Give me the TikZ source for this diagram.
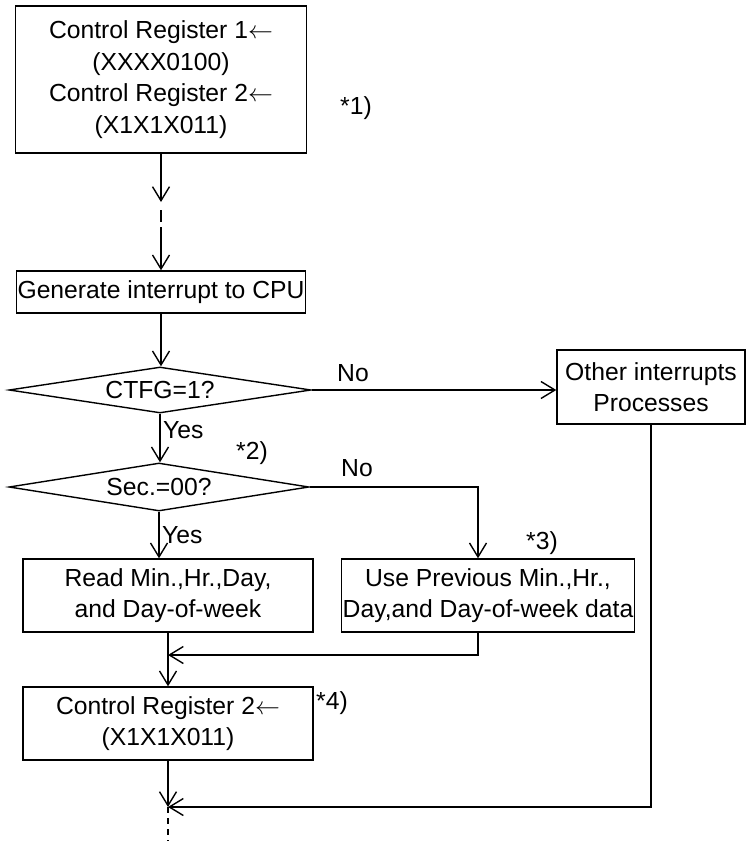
\documentclass[tikz,border=0pt]{standalone}
\usepackage{fontspec}
\setmainfont{Liberation Sans}
\usetikzlibrary{shapes.geometric,arrows.meta}
\begin{document}
\begin{tikzpicture}[x=1pt, y=-1pt,
  box/.style={draw, line width=1.4pt, inner sep=1pt, align=center,
              font=\fontsize{24.7}{31.5}\selectfont},
  dec/.style={draw, diamond, aspect=6.5, line width=1.4pt, inner sep=0pt,
              font=\fontsize{24.7}{30}\selectfont},
  note/.style={inner sep=0pt, font=\fontsize{24.7}{30}\selectfont},
  arrow/.style={-{Straight Barb[length=14pt, width=17pt]}, line width=1.4pt},
  plain/.style={line width=1.4pt}
]
  \useasboundingbox (0,0) rectangle (747,841);

  \node[box, minimum width=291pt, minimum height=147pt] (cr1) at (161,79.5)
    {Control Register 1$\leftarrow$\\(XXXX0100)\\Control Register 2$\leftarrow$\\(X1X1X011)};
  \node[note] (n1) at (356,108) {*1)};

  \node[box, minimum width=289pt, minimum height=42pt] (gen) at (161,292)
    {Generate interrupt to CPU};

  \node[dec, minimum width=302pt, minimum height=46pt] (ctfg) at (160,390) {CTFG=1?};
  \node[dec, minimum width=300pt, minimum height=48pt] (sec) at (159,487) {Sec.=00?};
  \node[note] (n2) at (252,453) {*2)};

  \node[box, minimum width=188pt, minimum height=74pt] (oth) at (651,387)
    {Other interrupts\\Processes};

  \node[box, minimum width=290pt, minimum height=73pt] (read) at (168,595.5)
    {Read Min.,Hr.,Day,\\and Day-of-week};
  \node[box, minimum width=290pt, minimum height=73pt] (prev) at (488,595.5)
    {Use Previous Min.,Hr.,\\Day,and Day-of-week data};
  \node[note] (n3) at (542,543) {*3)};

  \node[box, minimum width=290pt, minimum height=73pt] (cr2) at (168,723.5)
    {Control Register 2$\leftarrow$\\(X1X1X011)};
  \node[note] (n4) at (332,703) {*4)};

  \node[note, anchor=west] (yes1) at (163,430) {Yes};
  \node[note, anchor=west] (yes2) at (162,535) {Yes};
  \node[note] (no1) at (353,373) {No};
  \node[note] (no2) at (357,468) {No};

  % break in the first flow line
  \coordinate (brk1) at (161,202);
  \coordinate (brk2) at (161,210);
  \coordinate (brk3) at (161,222);
  \coordinate (brk4) at (161,227);
  % joins
  \coordinate (join1) at (168,655);
  \coordinate (join2) at (168,807);
  \coordinate (tail) at (168,841);

  \draw[arrow] (cr1.south) -- (brk1);
  \draw[plain] (brk2) -- (brk3);
  \draw[arrow] (brk4) -- (gen.north);
  \draw[arrow] (gen.south) -- (gen.south |- ctfg.north);
  \draw[arrow] (ctfg.east) -- (ctfg.east -| oth.west);
  \draw[arrow] (ctfg.south) -- (ctfg.south |- sec.north);
  \draw[arrow] (sec.east) -| ([xshift=-10pt]prev.north);
  \draw[arrow] (sec.south) -- (sec.south |- read.north);
  \draw[arrow] ([xshift=-10pt]prev.south) |- (join1);
  \draw[arrow] (read.south) -- (cr2.north);
  \draw[arrow] (oth.south) |- (join2);
  \draw[arrow] (cr2.south) -- (join2);
  \draw[plain, dash pattern=on 6pt off 5pt] (join2) -- (tail);
\end{tikzpicture}
\end{document}
